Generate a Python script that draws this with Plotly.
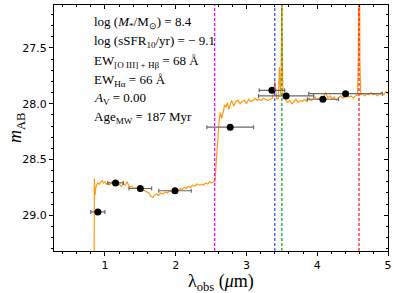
import plotly.graph_objects as go

# Model spectrum (observed wavelength in micron, AB magnitude)
spec_wave = [0.80, 0.845, 0.850, 0.855, 0.860, 0.870, 0.880, 0.900, 0.920, 0.940, 0.960, 0.980,
             1.000, 1.020, 1.040, 1.060, 1.080, 1.100, 1.120, 1.150, 1.180, 1.200, 1.230, 1.260,
             1.290, 1.310, 1.330, 1.350, 1.380, 1.410, 1.440, 1.470, 1.500, 1.530, 1.560, 1.590,
             1.620, 1.650, 1.680, 1.700, 1.730, 1.760, 1.790, 1.820, 1.850, 1.880, 1.910, 1.940,
             1.970, 2.000, 2.030, 2.060, 2.090, 2.120, 2.150, 2.180, 2.210, 2.240, 2.270, 2.300,
             2.330, 2.360, 2.390, 2.420, 2.450, 2.480, 2.510, 2.540, 2.555, 2.570, 2.590, 2.610,
             2.630, 2.650, 2.670, 2.690, 2.710, 2.730, 2.750, 2.770, 2.790, 2.820, 2.850, 2.880,
             2.910, 2.940, 2.970, 3.000, 3.030, 3.060, 3.090, 3.120, 3.150, 3.180, 3.210, 3.240,
             3.270, 3.300, 3.330, 3.370, 3.390, 3.400, 3.410, 3.430, 3.450, 3.460, 3.466, 3.472,
             3.485, 3.495, 3.500, 3.505, 3.515, 3.530, 3.550, 3.580, 3.610, 3.640, 3.670, 3.700,
             3.730, 3.760, 3.790, 3.820, 3.850, 3.880, 3.910, 3.940, 3.970, 4.000, 4.030, 4.060,
             4.090, 4.120, 4.150, 4.180, 4.210, 4.240, 4.270, 4.300, 4.330, 4.360, 4.390, 4.420,
             4.450, 4.480, 4.510, 4.540, 4.570, 4.580, 4.587, 4.595, 4.602, 4.615, 4.640, 4.670,
             4.700, 4.730, 4.760, 4.790, 4.820, 4.850, 4.880, 4.910, 4.940, 4.970, 5.000]
spec_mag = [31.0, 31.0, 28.67, 28.80, 28.82, 28.76, 28.73, 28.71, 28.72, 28.70, 28.69, 28.71,
            28.70, 28.72, 28.71, 28.73, 28.72, 28.70, 28.72, 28.71, 28.73, 28.72, 28.74, 28.72,
            28.73, 28.70, 28.72, 28.75, 28.74, 28.76, 28.75, 28.76, 28.75, 28.77, 28.78, 28.79,
            28.80, 28.83, 28.84, 28.82, 28.81, 28.82, 28.80, 28.81, 28.79, 28.80, 28.78, 28.79,
            28.78, 28.77, 28.78, 28.76, 28.77, 28.75, 28.76, 28.74, 28.75, 28.73, 28.74, 28.72,
            28.73, 28.72, 28.73, 28.71, 28.72, 28.70, 28.71, 28.70, 28.69, 28.55, 28.30, 28.18,
            28.08, 28.13, 28.08, 28.01, 28.03, 27.99, 28.05, 28.00, 27.97, 28.02, 27.98, 27.97,
            28.00, 27.98, 27.97, 28.00, 27.96, 27.98, 27.97, 27.95, 27.97, 27.96, 27.97, 27.95,
            27.96, 27.97, 27.96, 27.95, 27.85, 27.80, 27.85, 27.96, 27.95, 27.80, 27.67, 27.80,
            27.92, 27.40, 26.50, 27.40, 27.93, 27.95, 27.96, 27.99, 27.97, 28.00, 27.98, 27.96,
            27.99, 27.97, 27.98, 27.96, 27.98, 27.95, 27.97, 27.96, 27.94, 27.96, 27.95, 27.96,
            27.94, 27.90, 27.95, 27.93, 27.96, 27.94, 27.97, 27.95, 27.93, 27.95, 27.94, 27.92,
            27.94, 27.93, 27.95, 27.93, 27.92, 27.60, 26.00, 26.00, 27.60, 27.92, 27.91, 27.93,
            27.91, 27.92, 27.90, 27.92, 27.91, 27.93, 27.91, 27.90, 27.92, 27.89, 27.91]

# Photometry
phot_wave = [0.90, 1.15, 1.50, 1.99, 2.77, 3.36, 3.56, 4.08, 4.40]
phot_mag = [28.97, 28.71, 28.76, 28.78, 28.21, 27.88, 27.93, 27.96, 27.91]
phot_werr = [0.10, 0.11, 0.16, 0.23, 0.33, 0.18, 0.39, 0.22, 0.52]

# Line markers
line_wave = [2.55, 3.40, 3.50, 4.59]
line_colors = ["#ff00ff", "#3355ff", "#22a022", "#ff2020"]

# Annotation text
info_lines = [
    "log (<i>M</i><sub>*</sub>/M<sub>⊙</sub>) = 8.4",
    "log (sSFR<sub>10</sub>/yr) = − 9.1",
    "EW<sub>[O III] + Hβ</sub> = 68 Å",
    "EW<sub>Hα</sub> = 66 Å",
    "<i>A</i><sub>V</sub> = 0.00",
    "Age<sub>MW</sub> = 187 Myr",
]
info_y = [23, 41, 62, 80, 98, 117]

x_range = [0.28, 5.0]
y_range = [29.32, 27.115]

fig = go.Figure()

fig.add_trace(go.Scatter(x=spec_wave, y=spec_mag, mode="lines",
                         line=dict(color="#ff9910", width=1.2), hoverinfo="skip"))

for xv, c in zip(line_wave, line_colors):
    fig.add_shape(type="line", x0=xv, x1=xv, y0=0, y1=1, xref="x", yref="paper",
                  line=dict(color=c, width=1.3, dash="3px,2px"))

fig.add_trace(go.Scatter(x=phot_wave, y=phot_mag, mode="markers",
                         marker=dict(color="black", size=7),
                         error_x=dict(type="data", array=phot_werr, color="#6a6a6a",
                                      thickness=1.2, width=2)))

# dummy trace for mirrored axes
fig.add_trace(go.Scatter(x=[None], y=[None], xaxis="x2", yaxis="y2", mode="markers"))

ml, mr, mt, mb = 54, 7, 5, 42
W, H = 395, 293
pw, ph = W - ml - mr, H - mt - mb

for txt, yy in zip(info_lines, info_y):
    fig.add_annotation(text=txt, xref="paper", yref="paper",
                       x=(92 - ml) / pw, y=1 - (yy - mt) / ph,
                       xanchor="left", yanchor="middle", showarrow=False,
                       font=dict(family="Liberation Serif", size=13, color="black"))

fig.add_annotation(text="<i>m</i><sub>AB</sub>", xref="paper", yref="paper",
                   x=-(ml - 16) / pw, y=0.5, textangle=-90, showarrow=False,
                   xanchor="center", yanchor="middle",
                   font=dict(family="Liberation Serif", size=18, color="black"))
fig.add_annotation(text="λ<sub>obs</sub> (<i>μ</i>m)", xref="paper", yref="paper",
                   x=0.5, y=-(282 - mt - ph) / ph, showarrow=False,
                   xanchor="center", yanchor="middle",
                   font=dict(family="Liberation Serif", size=18, color="black"))

tickfont = dict(family="DejaVu Sans", size=11, color="black")
fig.update_layout(
    width=W, height=H, margin=dict(l=ml, r=mr, t=mt, b=mb, autoexpand=False),
    paper_bgcolor="white", plot_bgcolor="white", showlegend=False,
    xaxis=dict(range=x_range, showgrid=False, zeroline=False, showline=True,
               linecolor="black", linewidth=1, ticks="outside", ticklen=4,
               tickcolor="black", tickvals=[1, 2, 3, 4, 5], tickfont=tickfont,
               minor=dict(dtick=0.2, tick0=0, ticks="outside", ticklen=2, tickcolor="black")),
    yaxis=dict(range=y_range, showgrid=False, zeroline=False, showline=True,
               linecolor="black", linewidth=1, ticks="outside", ticklen=4,
               tickcolor="black", tickvals=[27.5, 28.0, 28.5, 29.0],
               ticktext=["27.5", "28.0", "28.5", "29.0"], tickfont=tickfont,
               minor=dict(dtick=0.1, tick0=0, ticks="outside", ticklen=2, tickcolor="black")),
    xaxis2=dict(range=x_range, overlaying="x", side="top", anchor="y2", showgrid=False,
                zeroline=False, showline=True, linecolor="black", linewidth=1,
                ticks="inside", ticklen=4, tickcolor="black", tickvals=[1, 2, 3, 4, 5],
                showticklabels=False,
                minor=dict(dtick=0.2, tick0=0, ticks="inside", ticklen=2, tickcolor="black")),
    yaxis2=dict(range=y_range, overlaying="y", side="right", anchor="x2", showgrid=False,
                zeroline=False, showline=True, linecolor="black", linewidth=1,
                ticks="inside", ticklen=4, tickcolor="black",
                tickvals=[27.5, 28.0, 28.5, 29.0], showticklabels=False,
                minor=dict(dtick=0.1, tick0=0, ticks="inside", ticklen=2, tickcolor="black")),
)

fig.write_html("out.html", config={"displayModeBar": False},
               post_script="document.body.style.margin='0';")
